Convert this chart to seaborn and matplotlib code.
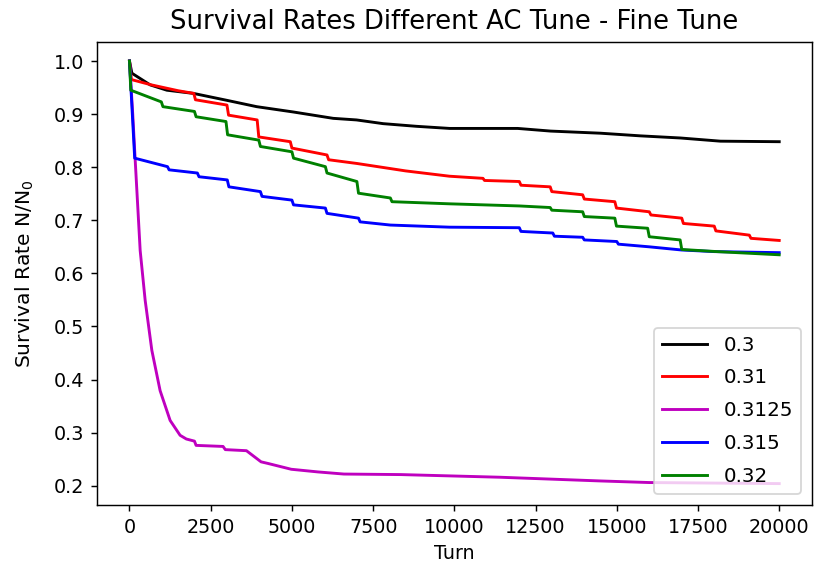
import matplotlib
matplotlib.use("Agg")
import matplotlib.pyplot as plt
import seaborn as sns
import pandas as pd

labels = ["0.3", "0.31", "0.3125", "0.315", "0.32"]
colors = ["k", "r", "m", "b", "g"]

turn_03 = [0, 74, 636, 1150, 1967, 2992, 3915, 5041, 6270, 6990, 7808, 8833, 9857,
           11950, 12965, 14500, 15730, 16960, 18190, 20000]
surv_03 = [1.0, 0.977, 0.955, 0.945, 0.939, 0.926, 0.914, 0.904, 0.892, 0.889, 0.882, 0.877, 0.873,
           0.873, 0.868, 0.864, 0.859, 0.855, 0.849, 0.848]

turn_031 = [0, 60, 676, 1500, 1980, 2030, 3000, 3050, 3930, 3980, 4950, 5000, 6080, 6130, 7000,
            8500, 9850, 10880, 10930, 12000, 12050, 12950, 13000, 13950, 14000, 14940, 14990,
            16000, 16050, 17000, 17050, 18000, 18050, 19080, 19130, 20000]
surv_031 = [1.0, 0.965, 0.955, 0.944, 0.939, 0.927, 0.917, 0.898, 0.889, 0.857, 0.848, 0.836, 0.823,
            0.814, 0.807, 0.793, 0.783, 0.779, 0.775, 0.773, 0.766, 0.763, 0.754, 0.748, 0.740,
            0.735, 0.723, 0.716, 0.710, 0.704, 0.694, 0.689, 0.680, 0.672, 0.666, 0.662]

turn_03125 = [0, 100, 176, 329, 483, 688, 943, 1251, 1558, 1750, 2000, 2050, 2880, 2950, 3600,
              4050, 4260, 4980, 5800, 6600, 8350, 11400, 14500, 16000, 20000]
surv_03125 = [1.0, 0.90, 0.813, 0.643, 0.549, 0.455, 0.379, 0.323, 0.295, 0.288, 0.284, 0.276, 0.274,
              0.268, 0.266, 0.245, 0.242, 0.231, 0.226, 0.222, 0.221, 0.216, 0.209, 0.206, 0.204]

turn_0315 = [0, 160, 1170, 1220, 2090, 2140, 3010, 3060, 4030, 4080, 5000, 5050, 6030, 6080, 7050,
             7100, 8030, 9850, 12000, 12050, 13030, 13080, 13950, 14000, 15000, 15050, 16000,
             17000, 18000, 20000]
surv_0315 = [1.0, 0.817, 0.801, 0.795, 0.789, 0.782, 0.776, 0.763, 0.754, 0.745, 0.738, 0.729, 0.723,
             0.713, 0.704, 0.697, 0.691, 0.687, 0.686, 0.679, 0.676, 0.670, 0.668, 0.663, 0.660,
             0.655, 0.650, 0.644, 0.641, 0.639]

turn_032 = [0, 40, 980, 1030, 2000, 2050, 2970, 3020, 3980, 4030, 5000, 5050, 6030, 6080, 7000,
            7050, 8030, 8080, 9850, 12000, 12950, 13000, 13950, 14000, 14940, 14990, 15950, 16000,
            16950, 17000, 18080, 20000]
surv_032 = [1.0, 0.945, 0.923, 0.914, 0.905, 0.895, 0.886, 0.861, 0.851, 0.839, 0.829, 0.817, 0.801,
            0.789, 0.773, 0.751, 0.742, 0.735, 0.731, 0.727, 0.724, 0.719, 0.716, 0.707, 0.704,
            0.689, 0.685, 0.669, 0.663, 0.645, 0.641, 0.635]

x_ticks = [0, 2500, 5000, 7500, 10000, 12500, 15000, 17500, 20000]
y_ticks = [0.2, 0.3, 0.4, 0.5, 0.6, 0.7, 0.8, 0.9, 1.0]

turns = [turn_03, turn_031, turn_03125, turn_0315, turn_032]
survs = [surv_03, surv_031, surv_03125, surv_0315, surv_032]

frames = []
for lab, t, s in zip(labels, turns, survs):
    frames.append(pd.DataFrame({"Turn": t, "Survival": s, "AC": lab}))
df = pd.concat(frames, ignore_index=True)

fig = plt.figure(figsize=(814 / 130, 572 / 130), dpi=130)
ax = fig.add_axes([97 / 814, 1 - 505 / 572, (811.7 - 97) / 814, (505 - 42) / 572])

sns.lineplot(data=df, x="Turn", y="Survival", hue="AC", palette=dict(zip(labels, colors)),
             estimator=None, sort=False, linewidth=1.6, ax=ax)

ax.set_xlim(-1000, 21000)
ax.set_ylim(0.1637, 1.0358)
ax.set_title("Survival Rates Different AC Tune - Fine Tune", fontsize=14.3, pad=7)
ax.set_xlabel("Turn", fontsize=10.5)
ax.set_ylabel("Survival Rate N/N$_0$", fontsize=11.2, labelpad=10)
ax.set_xticks(x_ticks)
ax.set_yticks(y_ticks)
ax.tick_params(labelsize=10.6)
ax.legend(loc="lower right", title=None, fontsize=11, handlelength=2.3,
          labelspacing=0.7, borderaxespad=0.55)

fig.savefig("out.png", dpi=130)
